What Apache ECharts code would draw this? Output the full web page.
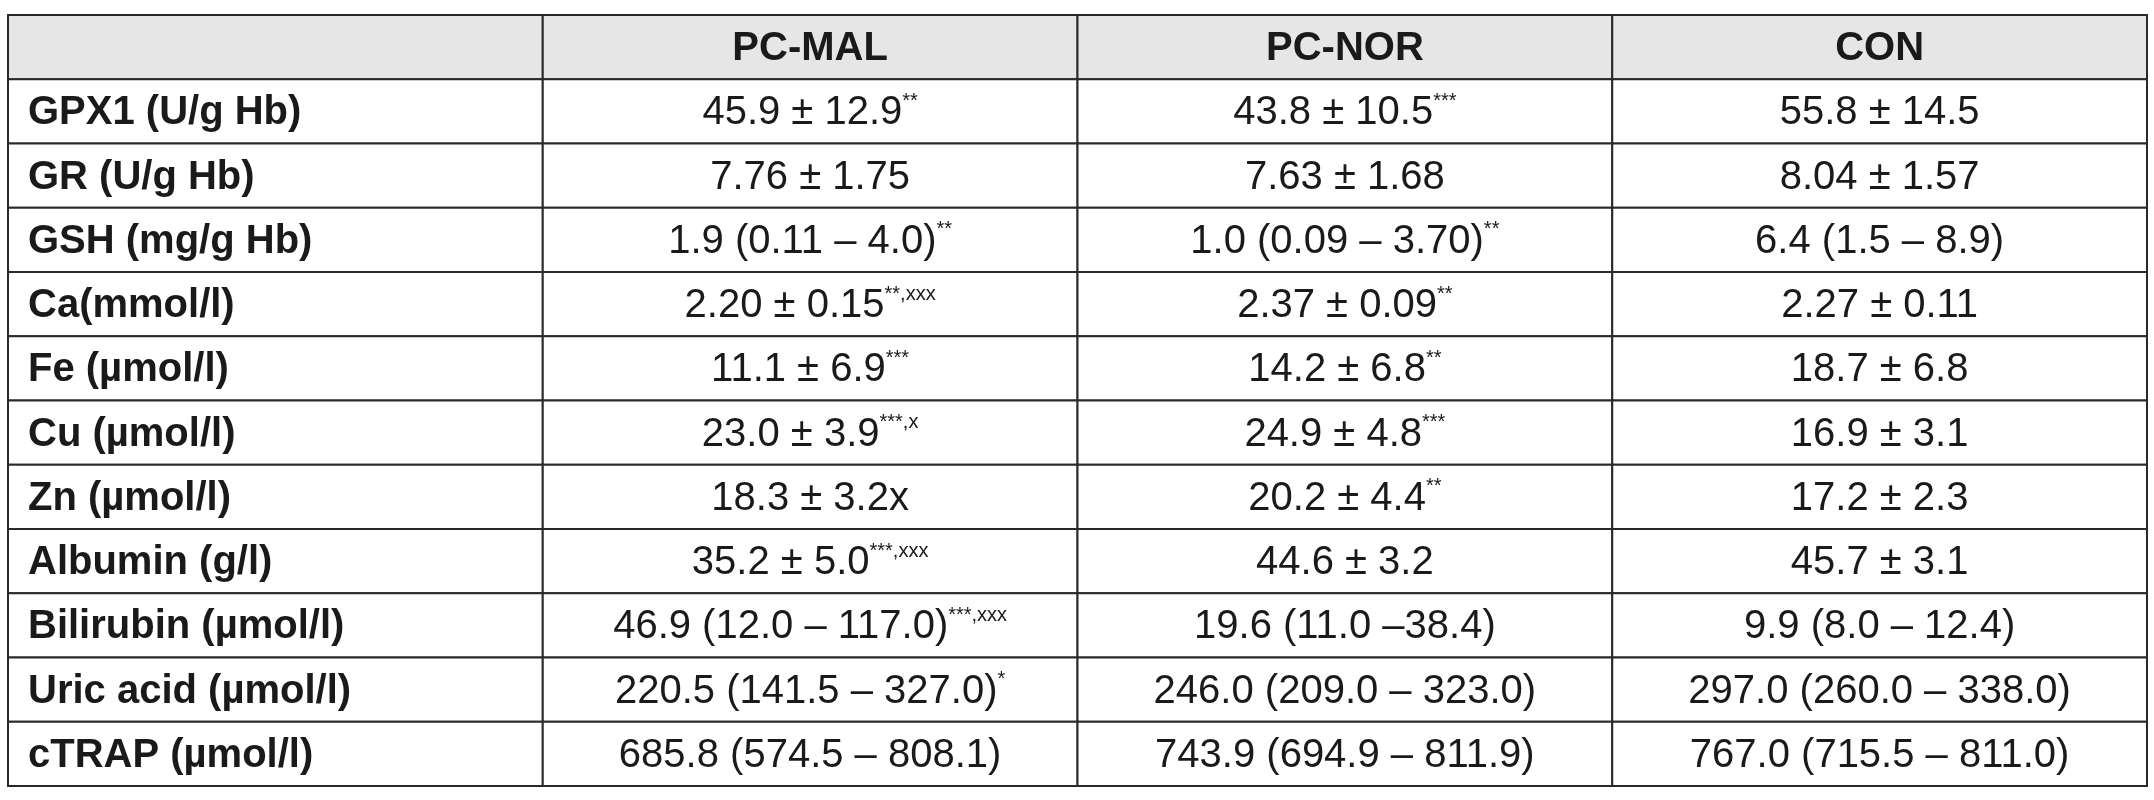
<!DOCTYPE html>
<html><head><meta charset="utf-8">
<script src="https://cdn.jsdelivr.net/npm/echarts@6/dist/echarts.min.js"></script>
<style>html,body{margin:0;padding:0;background:#fff}#c{width:2154px;height:800px}</style>
</head><body><div id="c"></div>
<script>
const columns = ['', 'PC-MAL', 'PC-NOR', 'CON'];
const parameters = ['GPX1 (U/g Hb)','GR (U/g Hb)','GSH (mg/g Hb)','Ca(mmol/l)','Fe (µmol/l)','Cu (µmol/l)','Zn (µmol/l)','Albumin (g/l)','Bilirubin (µmol/l)','Uric acid (µmol/l)','cTRAP (µmol/l)'];
const pcMal = ['45.9 ± 12.9','7.76 ± 1.75','1.9 (0.11 – 4.0)','2.20 ± 0.15','11.1 ± 6.9','23.0 ± 3.9','18.3 ± 3.2x','35.2 ± 5.0','46.9 (12.0 – 117.0)','220.5 (141.5 – 327.0)','685.8 (574.5 – 808.1)'];
const pcMalSig = ['**','','**','**,xxx','***','***,x','','***,xxx','***,xxx','*',''];
const pcNor = ['43.8 ± 10.5','7.63 ± 1.68','1.0 (0.09 – 3.70)','2.37 ± 0.09','14.2 ± 6.8','24.9 ± 4.8','20.2 ± 4.4','44.6 ± 3.2','19.6 (11.0 –38.4)','246.0 (209.0 – 323.0)','743.9 (694.9 – 811.9)'];
const pcNorSig = ['***','','**','**','**','***','**','','','',''];
const con = ['55.8 ± 14.5','8.04 ± 1.57','6.4 (1.5 – 8.9)','2.27 ± 0.11','18.7 ± 6.8','16.9 ± 3.1','17.2 ± 2.3','45.7 ± 3.1','9.9 (8.0 – 12.4)','297.0 (260.0 – 338.0)','767.0 (715.5 – 811.0)'];
const conSig = ['','','','','','','','','','',''];

const rows = ['header'].concat(parameters);
const cells = [];
columns.forEach((c, i) => cells.push({value: [i, 0], text: c, sig: '', kind: 'head'}));
parameters.forEach((p, r) => {
  cells.push({value: [0, r + 1], text: p, sig: '', kind: 'label'});
  [[pcMal, pcMalSig], [pcNor, pcNorSig], [con, conSig]].forEach((pair, k) => {
    cells.push({value: [k + 1, r + 1], text: pair[0][r], sig: pair[1][r], kind: 'val'});
  });
});

const FONT = "'Liberation Sans Narrow','Liberation Sans',Arial,sans-serif";
const chart = echarts.init(document.getElementById('c'));
chart.setOption({
  animation: false,
  grid: {left: 8, right: 7, top: 15, bottom: 14},
  xAxis: {type: 'category', data: columns, show: false},
  yAxis: {type: 'category', data: rows, inverse: true, show: false},
  series: [{
    type: 'custom',
    data: cells,
    renderItem: function (params, api) {
      const d = cells[params.dataIndex];
      const c = api.coord([api.value(0), api.value(1)]);
      const s = api.size([1, 1]);
      const x0 = c[0] - s[0] / 2, y0 = c[1] - s[1] / 2;
      const head = d.kind === 'head';
      const label = d.kind === 'label';
      const txt = d.sig ? '{v|' + d.text + '}{s|' + d.sig + '}' : '{v|' + d.text + '}';
      return {
        type: 'group',
        children: [
          {type: 'rect', shape: {x: x0, y: y0, width: s[0], height: s[1]},
           style: {fill: head ? '#e6e6e6' : '#fff', stroke: '#2a2a2a', lineWidth: 2}},
          {type: 'text', x: label ? x0 + 20 : c[0], y: c[1] + 2,
           style: {text: txt, align: label ? 'left' : 'center', verticalAlign: 'middle',
             rich: {
               v: {fontFamily: FONT, fontSize: 40, fontWeight: (head || label) ? 'bold' : 'normal', fill: '#1a1a1a', lineHeight: 44},
               s: {fontFamily: FONT, fontSize: 20, fill: '#1a1a1a', verticalAlign: 'top', lineHeight: 44, padding: [0, 0, 14, 0]}
             }}}
        ]
      };
    }
  }]
});
</script></body></html>
